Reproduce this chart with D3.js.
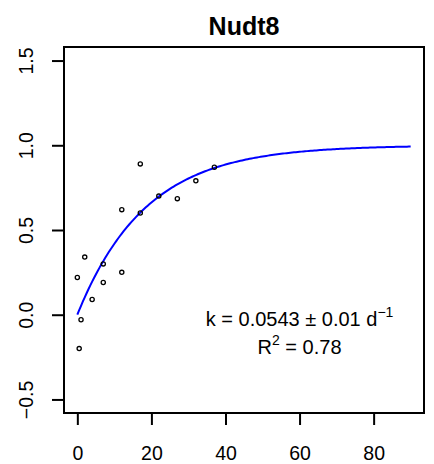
<!DOCTYPE html>
<html>
<head>
<meta charset="utf-8">
<script src="https://cdn.jsdelivr.net/npm/d3@7"></script>
<style>
  body { margin: 0; background: #fff; }
  svg text { font-family: "Liberation Sans", Arial, Helvetica, sans-serif; }
</style>
</head>
<body>
<div id="chart"></div>
<script>
// observed time points (days) and fraction values
const days = [0, 0.5, 1, 2, 4, 7, 7, 12, 12, 17, 17, 22, 27, 32, 37];
const fraction = [0.22, -0.20, -0.03, 0.34, 0.09, 0.30, 0.19, 0.25, 0.62, 0.60, 0.89, 0.70, 0.685, 0.79, 0.87];
const xTicks = [0, 20, 40, 60, 80];
const yTicks = [-0.5, 0.0, 0.5, 1.0, 1.5];
const k = 0.0543;
const fitDays = d3.range(0, 90.01, 0.5);

const width = 434, height = 464;
const margin = { top: 47, right: 10, bottom: 51, left: 64 };

const svg = d3.select('#chart')
    .append('svg')
    .attr('width', width)
    .attr('height', height);

// R style 4% padding on both axes
const x = d3.scaleLinear()
    .domain([-3.6, 93.6])
    .range([margin.left, width - margin.right]);

const y = d3.scaleLinear()
    .domain([-0.58, 1.58])
    .range([height - margin.bottom, margin.top]);

// plot box
svg.append('rect')
    .attr('x', margin.left)
    .attr('y', margin.top)
    .attr('width', width - margin.left - margin.right)
    .attr('height', height - margin.top - margin.bottom)
    .attr('fill', 'none')
    .attr('stroke', '#000')
    .attr('stroke-width', 2);

// x axis
const xAxis = svg.append('g')
    .attr('transform', `translate(0,${height - margin.bottom})`)
    .call(d3.axisBottom(x).tickValues(xTicks).tickSize(12).tickPadding(21).tickFormat(d3.format('d')));
xAxis.select('.domain').remove();
xAxis.selectAll('line').attr('stroke-width', 2);
xAxis.selectAll('text').attr('font-size', 19.5).attr('fill', '#000');

// y axis with rotated labels
const yAxis = svg.append('g')
    .attr('transform', `translate(${margin.left},0)`)
    .call(d3.axisLeft(y).tickValues(yTicks).tickSize(12).tickFormat(d => d.toFixed(1).replace('-', '\u2212')));
yAxis.select('.domain').remove();
yAxis.selectAll('line').attr('stroke-width', 2);
yAxis.selectAll('text')
    .attr('font-size', 19.5)
    .attr('fill', '#000')
    .attr('x', null)
    .attr('dy', null)
    .attr('text-anchor', 'middle')
    .attr('transform', 'translate(-31,0) rotate(-90)');

// fitted curve 1 - exp(-k t)
const line = d3.line()
    .x(d => x(d))
    .y(d => y(1 - Math.exp(-k * d)));

svg.append('path')
    .datum(fitDays)
    .attr('d', line)
    .attr('fill', 'none')
    .attr('stroke', '#0000ff')
    .attr('stroke-width', 2);

// data points
svg.selectAll('.pt')
    .data(days)
    .enter()
    .append('circle')
    .attr('class', 'pt')
    .attr('cx', d => x(d))
    .attr('cy', (d, i) => y(fraction[i]))
    .attr('r', 2.1)
    .attr('fill', 'none')
    .attr('stroke', '#000')
    .attr('stroke-width', 1.3);

// title
svg.append('text')
    .attr('x', x(45))
    .attr('y', 35)
    .attr('text-anchor', 'middle')
    .attr('font-size', 25)
    .attr('font-weight', 'bold')
    .text('Nudt8');

// annotation
const ann = svg.append('text')
    .attr('x', x(60))
    .attr('y', 326)
    .attr('text-anchor', 'middle')
    .attr('font-size', 20);
ann.append('tspan').text('k = 0.0543 \u00b1 0.01 d');
ann.append('tspan').attr('dy', -9).attr('font-size', 14).text('\u22121');

const r2 = svg.append('text')
    .attr('x', x(60))
    .attr('y', 354)
    .attr('text-anchor', 'middle')
    .attr('font-size', 20);
r2.append('tspan').text('R');
r2.append('tspan').attr('dy', -9).attr('font-size', 14).text('2');
r2.append('tspan').attr('dy', 9).text(' = 0.78');
</script>
</body>
</html>
